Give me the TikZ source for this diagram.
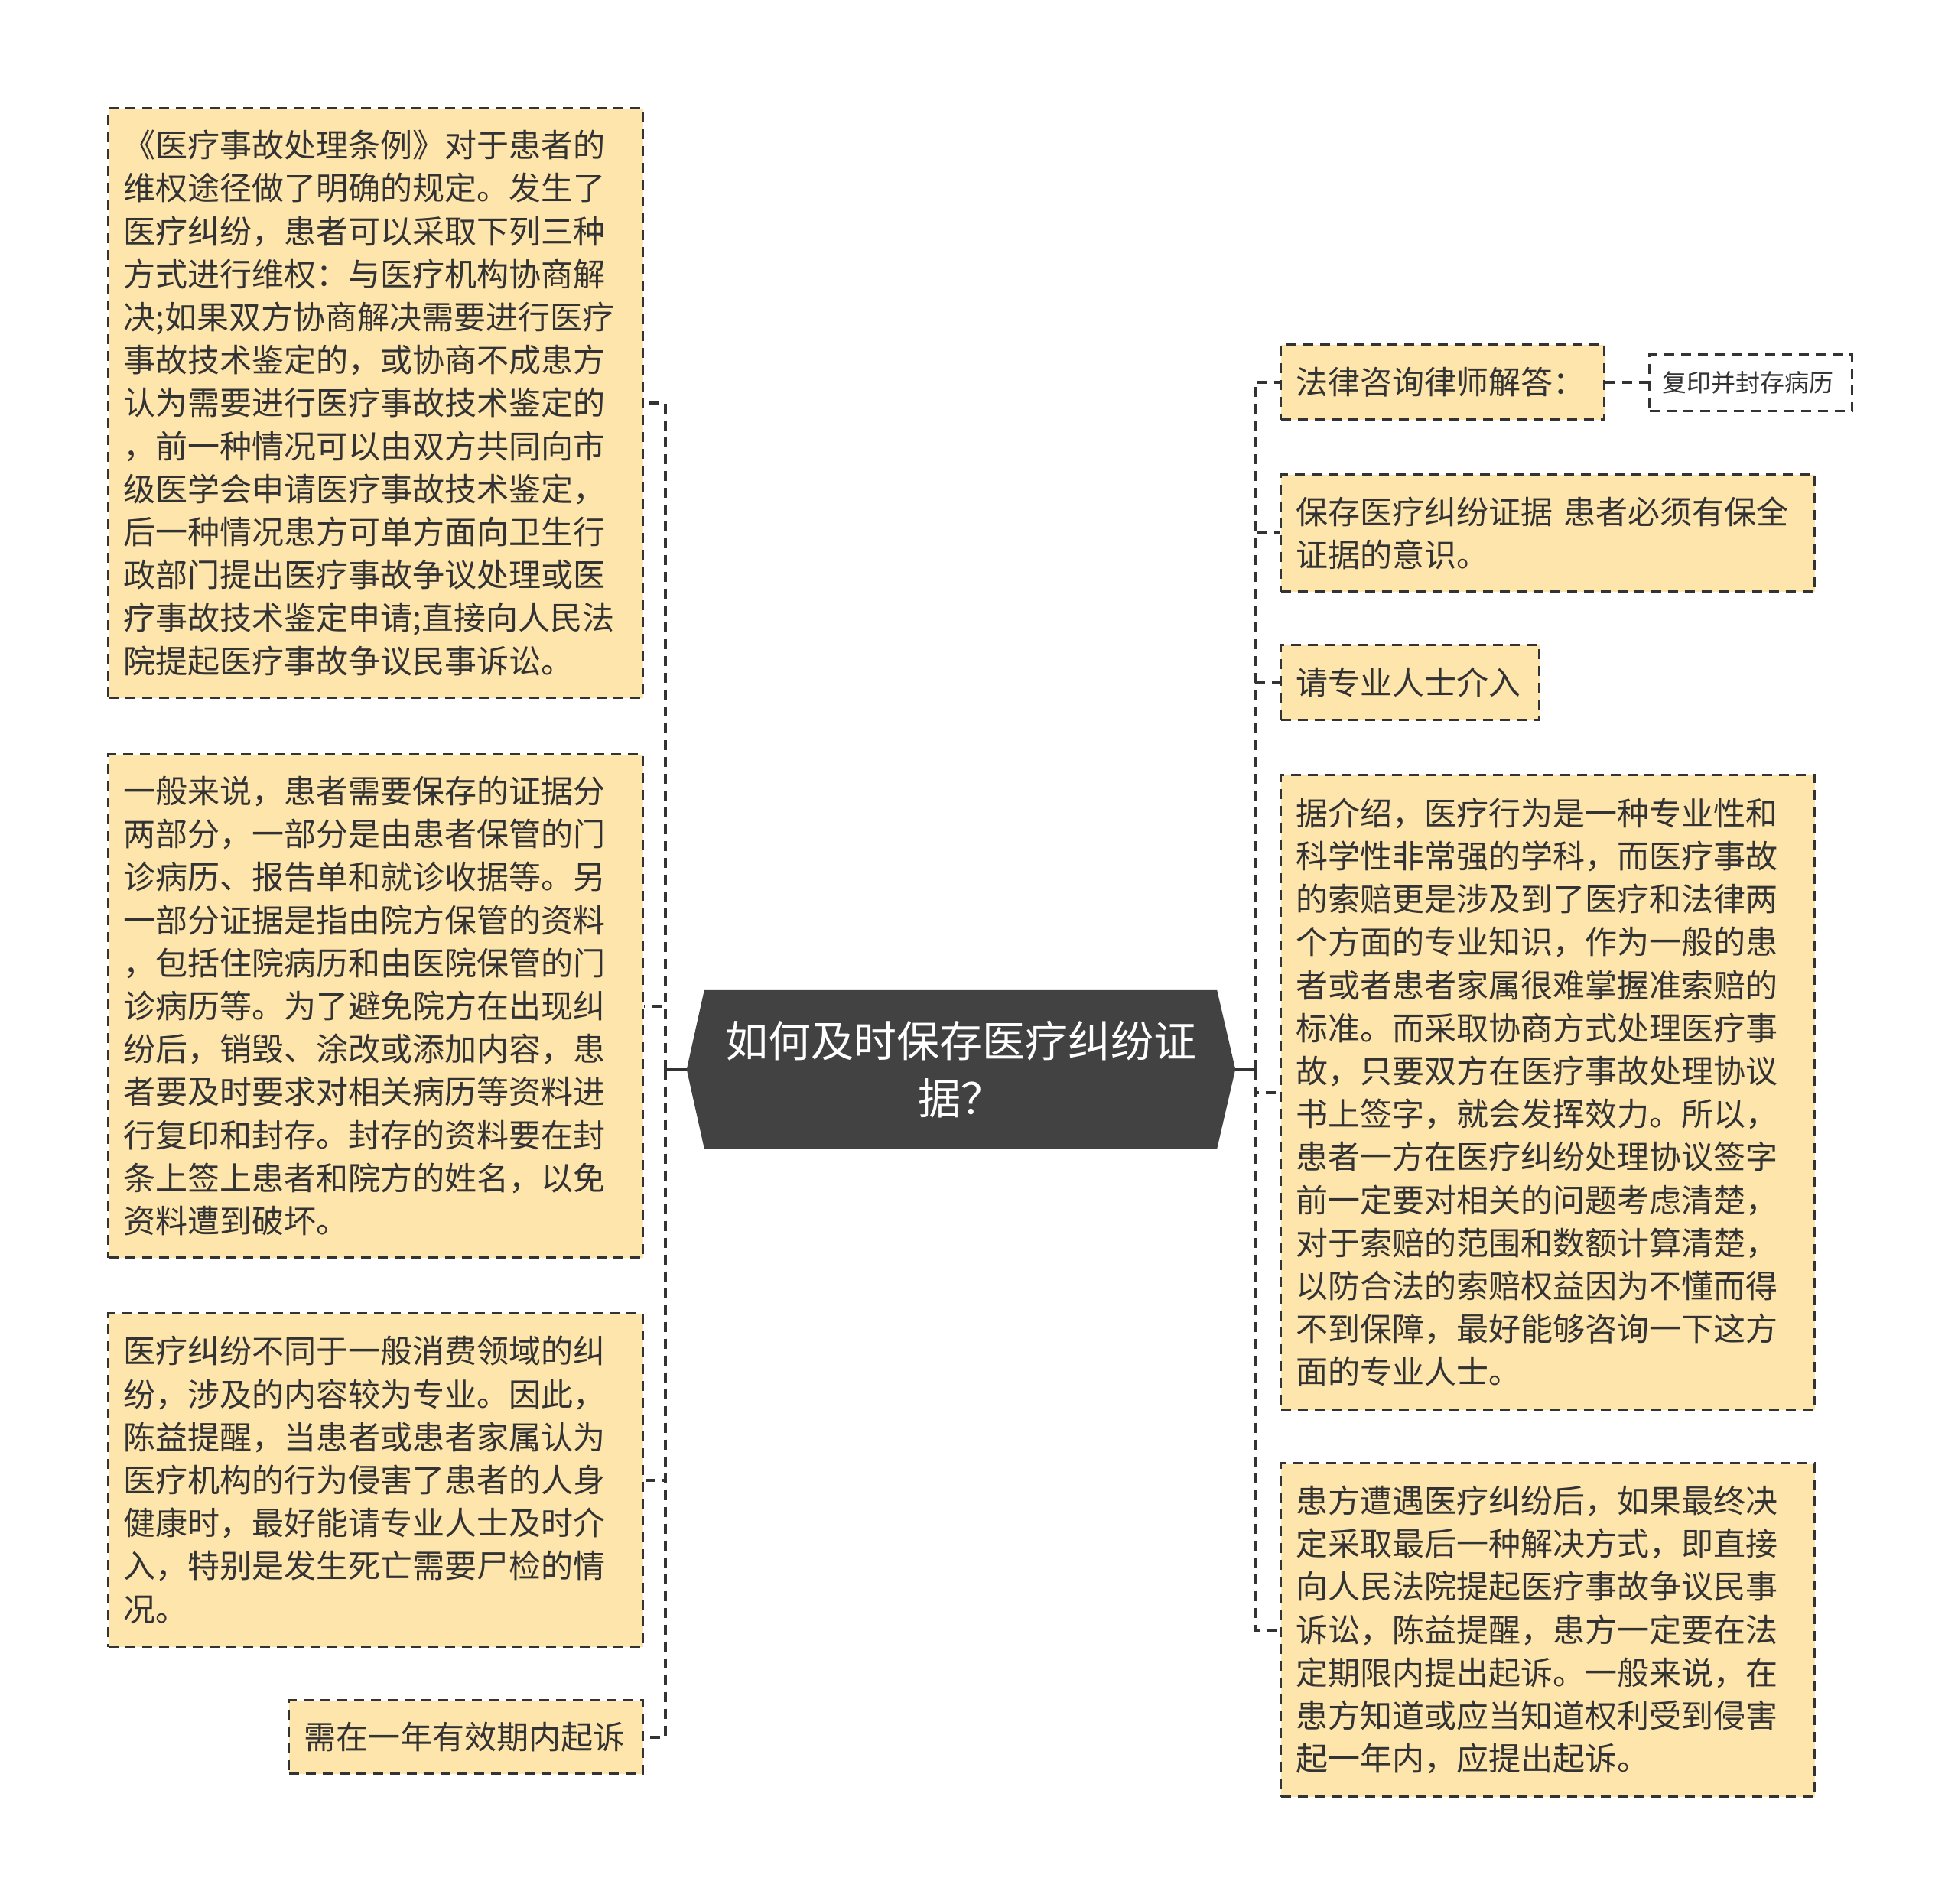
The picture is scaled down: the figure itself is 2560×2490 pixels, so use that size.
\documentclass[tikz,border=0pt]{standalone}
\usepackage{fontspec}
\newfontfamily\cjk{Noto Sans CJK SC}
\usetikzlibrary{calc,backgrounds}
\definecolor{boxfill}{RGB}{254,229,172}
\definecolor{ink}{RGB}{51,51,51}
\definecolor{centerfill}{RGB}{66,66,66}
\begin{document}
\begin{tikzpicture}[x=1pt,y=-1pt,
  box/.style={draw=ink, fill=boxfill, line width=3pt, dash pattern=on 13pt off 9pt,
    text=ink, font=\cjk\fontsize{42}{56.2}\selectfont, align=left,
    inner xsep=20pt, inner ysep=0pt, anchor=north west},
  smallbox/.style={box, fill=white, font=\cjk\fontsize{32}{40}\selectfont, inner xsep=17pt},
  conn/.style={draw=ink, line width=4pt, dash pattern=on 13pt off 9pt},
  stub/.style={draw=ink, line width=4pt},
  hub/.style={text=white, font=\cjk\fontsize{56}{75}\selectfont, align=center,
    minimum width=717pt, minimum height=207pt, inner sep=0pt}]
\useasboundingbox (0,0) rectangle (2560,2490);

% central topic
\node[hub] (c) at (1256.5,1398.5) {如何及时保存医疗纠纷证\\据？};
\begin{scope}[on background layer]
\fill[centerfill] (c.west) -- ($(c.north west)+(23,0)$) -- ($(c.north east)+(-24,0)$)
  -- (c.east) -- ($(c.south east)+(-24,0)$) -- ($(c.south west)+(23,0)$) -- cycle;
\end{scope}

% left side
\node[box, text width=659pt, minimum height=771pt] (L1) at (140,140)
 {《医疗事故处理条例》对于患者的\\维权途径做了明确的规定。发生了\\医疗纠纷，患者可以采取下列三种\\方式进行维权：与医疗机构协商解\\决;如果双方协商解决需要进行医疗\\事故技术鉴定的，或协商不成患方\\认为需要进行医疗事故技术鉴定的\\，前一种情况可以由双方共同向市\\级医学会申请医疗事故技术鉴定，\\后一种情况患方可单方面向卫生行\\政部门提出医疗事故争议处理或医\\疗事故技术鉴定申请;直接向人民法\\院提起医疗事故争议民事诉讼。};
\node[box, text width=659pt, minimum height=658pt] (L2) at (140,985)
 {一般来说，患者需要保存的证据分\\两部分，一部分是由患者保管的门\\诊病历、报告单和就诊收据等。另\\一部分证据是指由院方保管的资料\\，包括住院病历和由医院保管的门\\诊病历等。为了避免院方在出现纠\\纷后，销毁、涂改或添加内容，患\\者要及时要求对相关病历等资料进\\行复印和封存。封存的资料要在封\\条上签上患者和院方的姓名，以免\\资料遭到破坏。};
\node[box, text width=659pt, minimum height=436pt] (L3) at (140,1716)
 {医疗纠纷不同于一般消费领域的纠\\纷，涉及的内容较为专业。因此，\\陈益提醒，当患者或患者家属认为\\医疗机构的行为侵害了患者的人身\\健康时，最好能请专业人士及时介\\入，特别是发生死亡需要尸检的情\\况。};
\node[box, text width=423pt, minimum height=96pt] (L4) at (376,2222)
 {需在一年有效期内起诉};

% right side
\node[box, text width=383pt, minimum height=98pt] (R1) at (1673,449)
 {法律咨询律师解答：};
\node[smallbox, text width=231pt, minimum height=74pt] (S1) at (2155,462)
 {复印并封存病历};
\node[box, text width=658pt, minimum height=153pt] (R2) at (1673,619)
 {保存医疗纠纷证据 患者必须有保全\\证据的意识。};
\node[box, text width=298pt, minimum height=98pt] (R3) at (1673,842)
 {请专业人士介入};
\node[box, text width=658pt, minimum height=830pt] (R4) at (1673,1012)
 {据介绍，医疗行为是一种专业性和\\科学性非常强的学科，而医疗事故\\的索赔更是涉及到了医疗和法律两\\个方面的专业知识，作为一般的患\\者或者患者家属很难掌握准索赔的\\标准。而采取协商方式处理医疗事\\故，只要双方在医疗事故处理协议\\书上签字，就会发挥效力。所以，\\患者一方在医疗纠纷处理协议签字\\前一定要对相关的问题考虑清楚，\\对于索赔的范围和数额计算清楚，\\以防合法的索赔权益因为不懂而得\\不到保障，最好能够咨询一下这方\\面的专业人士。};
\node[box, text width=658pt, minimum height=436pt] (R5) at (1673,1912)
 {患方遭遇医疗纠纷后，如果最终决\\定采取最后一种解决方式，即直接\\向人民法院提起医疗事故争议民事\\诉讼，陈益提醒，患方一定要在法\\定期限内提出起诉。一般来说，在\\患方知道或应当知道权利受到侵害\\起一年内，应提出起诉。};

% connectors
\coordinate (lbus) at (870,1398.5);
\coordinate (rbus) at (1641,1398.5);
\draw[stub] (c.west) -- (lbus);
\draw[stub] (c.east) -- (rbus);
\foreach \n in {L1,L2,L3,L4} \draw[conn] (lbus) |- (\n.east);
\foreach \n in {R1,R2,R3,R4,R5} \draw[conn] (rbus) |- (\n.west);
\draw[conn] (R1.east) -- (S1.west |- R1.east);
\end{tikzpicture}
\end{document}
